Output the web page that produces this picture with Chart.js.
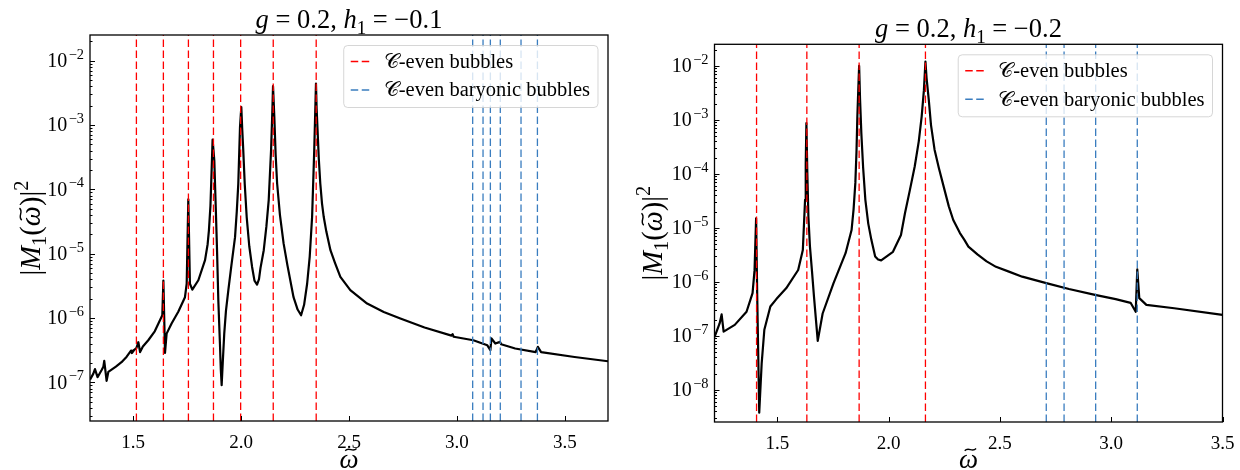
<!DOCTYPE html>
<html>
<head>
<meta charset="utf-8">
<script src="https://cdn.jsdelivr.net/npm/chart.js@4.4.0/dist/chart.umd.min.js"></script>
<style>
  body { margin: 0; background: #fff; }
  .panel { position: absolute; top: 0; width: 620px; height: 470px; }
</style>
</head>
<body>
<div class="panel" style="left:0"><canvas id="left" width="620" height="470"></canvas></div>
<div class="panel" style="left:620px"><canvas id="right" width="620" height="470"></canvas></div>
<script>
const SERIF = '"Liberation Serif", "DejaVu Serif", serif';

// ---- left panel: g = 0.2, h1 = -0.1 ----
const leftOmega = [1.300, 1.315, 1.323, 1.335, 1.354, 1.362, 1.366, 1.377, 1.385, 1.420, 1.446, 1.470, 1.490, 1.494,
  1.505, 1.515, 1.524, 1.532, 1.545, 1.570, 1.600, 1.617, 1.635, 1.640, 1.6475, 1.655, 1.678, 1.709, 1.740, 1.748,
  1.7555, 1.763, 1.774, 1.802, 1.833, 1.845, 1.851, 1.858, 1.864, 1.868, 1.876, 1.880, 1.884, 1.889, 1.8945, 1.902,
  1.906, 1.910, 1.915, 1.922, 1.930, 1.941, 1.955, 1.972, 1.980, 1.987, 1.995, 2.001, 2.005, 2.010, 2.017, 2.026,
  2.038, 2.051, 2.062, 2.074, 2.083, 2.090, 2.105, 2.117, 2.128, 2.139, 2.145, 2.148, 2.154, 2.160, 2.167, 2.180,
  2.197, 2.215, 2.243, 2.262, 2.278, 2.292, 2.306, 2.318, 2.329, 2.339, 2.347, 2.350, 2.355, 2.360, 2.367, 2.375,
  2.383, 2.395, 2.414, 2.435, 2.460, 2.506, 2.584, 2.661, 2.738, 2.850, 2.975, 2.980, 2.985, 3.076, 3.141, 3.155,
  3.160, 3.178, 3.200, 3.205, 3.270, 3.365, 3.375, 3.390, 3.545, 3.700];
const leftM1 = [1.10e-7, 1.35e-7, 1.60e-7, 1.20e-7, 1.55e-7, 1.75e-7, 2.15e-7, 1.05e-7, 1.45e-7, 1.75e-7, 2.05e-7, 2.50e-7, 3.10e-7, 2.85e-7,
  3.20e-7, 3.40e-7, 4.20e-7, 2.95e-7, 3.60e-7, 4.50e-7, 6.20e-7, 8.20e-7, 1.10e-6, 3.80e-6, 2.85e-7, 5.70e-7, 8.20e-7, 1.25e-6, 2.10e-6, 3.40e-6,
  7.00e-5, 3.40e-6, 2.75e-6, 3.85e-6, 7.90e-6, 1.40e-5, 2.30e-5, 5.50e-5, 2.20e-4, 5.90e-4, 2.80e-4, 1.00e-4, 3.70e-5, 1.00e-5, 1.90e-6, 4.00e-7,
  1.60e-7, 9.00e-8, 2.00e-7, 5.70e-7, 1.30e-6, 2.70e-6, 6.50e-6, 1.80e-5, 4.50e-5, 1.20e-4, 9.30e-4, 1.90e-3, 9.00e-4, 4.10e-4, 1.20e-4, 3.70e-5,
  1.30e-5, 6.20e-6, 3.80e-6, 3.30e-6, 4.00e-6, 6.00e-6, 1.13e-5, 2.60e-5, 6.80e-5, 4.10e-4, 1.70e-3, 4.00e-3, 1.34e-3, 3.50e-4, 1.23e-4, 4.00e-5,
  1.44e-5, 6.50e-6, 2.10e-6, 1.35e-6, 1.10e-6, 1.60e-6, 3.40e-6, 9.00e-6, 3.70e-5, 4.10e-4, 4.40e-3, 1.80e-3, 7.40e-4, 3.00e-4, 1.23e-4, 6.00e-5,
  3.70e-5, 2.20e-5, 1.13e-5, 7.20e-6, 4.35e-6, 2.70e-6, 1.67e-6, 1.24e-6, 9.80e-7, 7.10e-7, 5.30e-7, 5.60e-7, 5.10e-7, 4.50e-7, 3.75e-7, 3.15e-7,
  4.80e-7, 4.00e-7, 4.25e-7, 3.90e-7, 3.35e-7, 2.95e-7, 3.55e-7, 2.95e-7, 2.47e-7, 2.12e-7];
const leftRed = [1.515, 1.640, 1.756, 1.872, 1.998, 2.149, 2.348];
const leftBlue = [3.073, 3.121, 3.155, 3.201, 3.297, 3.373];
const leftXRange = [1.3, 3.7];
const leftYRange = [2.5e-8, 2.5e-2];
const leftYTicks = [1e-7, 1e-6, 1e-5, 1e-4, 1e-3, 1e-2];

// ---- right panel: g = 0.2, h1 = -0.2 ----
const rightOmega = [1.217, 1.240, 1.249, 1.258, 1.308, 1.361, 1.388, 1.397, 1.404, 1.409, 1.418, 1.429, 1.441, 1.468,
  1.495, 1.539, 1.593, 1.614, 1.624, 1.627, 1.630, 1.634, 1.639, 1.646, 1.655, 1.664, 1.672, 1.681, 1.703, 1.752,
  1.806, 1.833, 1.842, 1.850, 1.855, 1.859, 1.863, 1.867, 1.871, 1.877, 1.885, 1.895, 1.908, 1.922, 1.939, 1.952,
  1.966, 2.019, 2.055, 2.073, 2.095, 2.117, 2.135, 2.148, 2.158, 2.165, 2.170, 2.180, 2.190, 2.206, 2.225, 2.251,
  2.270, 2.290, 2.320, 2.340, 2.358, 2.400, 2.440, 2.482, 2.540, 2.600, 2.708, 2.810, 2.927, 3.020, 3.087, 3.110,
  3.117, 3.126, 3.158, 3.283, 3.500];
const rightM1 = [9.5e-8, 1.7e-7, 2.5e-7, 1.2e-7, 1.6e-7, 2.8e-7, 6.2e-7, 1.65e-6, 1.5e-5, 5.4e-7, 3.8e-9, 3.1e-8, 1.3e-7, 3.5e-7,
  4.8e-7, 7.6e-7, 1.66e-6, 3.9e-6, 3.3e-5, 1.5e-4, 8.7e-4, 1.1e-4, 1.6e-5, 4.5e-6, 1.6e-6, 5.4e-7, 2.2e-7, 8.1e-8, 2.6e-7, 9.5e-7,
  3.4e-6, 9.1e-6, 2.2e-5, 6.8e-5, 2.5e-4, 1.15e-3, 3.5e-3, 1.0e-2, 2.5e-3, 5.6e-4, 1.3e-4, 3.3e-5, 1.2e-5, 6.0e-6, 2.95e-6, 2.6e-6,
  2.5e-6, 3.6e-6, 7.4e-6, 1.86e-5, 5.0e-5, 1.38e-4, 4.0e-4, 1.15e-3, 3.5e-3, 1.2e-2, 6.0e-3, 2.35e-3, 8.0e-4, 2.8e-4, 1.3e-4, 5.0e-5,
  2.5e-5, 1.4e-5, 8.0e-6, 6.0e-6, 4.5e-6, 3.2e-6, 2.4e-6, 1.9e-6, 1.55e-6, 1.25e-6, 9.5e-7, 7.4e-7, 5.75e-7, 4.8e-7, 4.1e-7, 2.8e-7,
  1.7e-6, 5.0e-7, 3.75e-7, 3.25e-7, 2.45e-7];
const rightRed = [1.406, 1.632, 1.867, 2.165];
const rightBlue = [2.708, 2.788, 2.930, 3.117];
const rightXRange = [1.217, 3.5];
const rightYRange = [2.55e-9, 2.5e-2];
const rightYTicks = [1e-8, 1e-7, 1e-6, 1e-5, 1e-4, 1e-3, 1e-2];

const xTickValues = [1.5, 2.0, 2.5, 3.0, 3.5];
const legendLabels = ['𝒞-even bubbles', '𝒞-even baryonic bubbles'];

// draws a run of text pieces: italic, sub/superscript, tilde accent
function drawRich(ctx, segs, x, y, size, align) {
  let total = 0;
  const parts = segs.map(s => {
    const fs = (s.sub || s.sup) ? size * 0.72 : size;
    ctx.font = (s.it ? 'italic ' : '') + fs + 'px ' + SERIF;
    const w = ctx.measureText(s.t).width + (s.gap || 0);
    total += w;
    return { s, fs, w };
  });
  let cx = align === 'right' ? x - total : align === 'left' ? x : x - total / 2;
  ctx.textAlign = 'left';
  ctx.textBaseline = 'alphabetic';
  parts.forEach(p => {
    ctx.font = (p.s.it ? 'italic ' : '') + p.fs + 'px ' + SERIF;
    const dy = p.s.sub ? size * 0.22 : p.s.sup ? -size * 0.42 : 0;
    ctx.fillText(p.s.t, cx + (p.s.gap || 0), y + dy);
    if (p.s.tilde) {
      const tw = size * 0.42, tx = cx + p.w / 2 + size * 0.07, ty = y - size * 0.68, am = size * 0.04;
      ctx.save();
      ctx.lineWidth = size * 0.05;
      ctx.strokeStyle = ctx.fillStyle;
      ctx.beginPath();
      ctx.moveTo(tx - tw / 2, ty + am);
      ctx.bezierCurveTo(tx - tw / 6, ty - 3 * am, tx + tw / 6, ty + 3 * am, tx + tw / 2, ty - am);
      ctx.stroke();
      ctx.restore();
    }
    cx += p.w;
  });
}

const panelPlugin = {
  id: 'panel',
  afterDraw(chart, args, opts) {
    const ctx = chart.ctx, a = chart.chartArea;
    const xs = chart.scales.x, ys = chart.scales.y;
    ctx.save();
    ctx.strokeStyle = '#000';
    ctx.fillStyle = '#000';
    ctx.lineWidth = 1;
    ctx.beginPath();
    xs.ticks.forEach(t => {
      const px = Math.round(xs.getPixelForValue(t.value)) + 0.5;
      ctx.moveTo(px, a.bottom); ctx.lineTo(px, a.bottom - 5);
    });
    ys.ticks.forEach(t => {
      const py = Math.round(ys.getPixelForValue(t.value)) + 0.5;
      ctx.moveTo(a.left, py); ctx.lineTo(a.left + (t.major ? 5 : 2.5), py);
    });
    ctx.stroke();

    // decade labels 10^n
    opts.yTicks.forEach(v => {
      const py = ys.getPixelForValue(v);
      const e = Math.round(Math.log10(v));
      drawRich(ctx, [{ t: '10' }, { t: (e < 0 ? '−' : '') + Math.abs(e), sup: true, gap: 1.5 }], a.left - 6, py + 6.5, 20, 'right');
    });

    ctx.lineWidth = 1.3;
    ctx.strokeRect(a.left, a.top, a.right - a.left, a.bottom - a.top);

    const mid = (a.left + a.right) / 2;
    drawRich(ctx, opts.title, mid, opts.titleY, 26.5, 'center');
    drawRich(ctx, [{ t: 'ω', it: true, tilde: true }], mid, 468, 27, 'center');

    ctx.save();
    ctx.translate(opts.yLabelX, (a.top + a.bottom) / 2);
    ctx.rotate(-Math.PI / 2);
    drawRich(ctx, [{ t: '|' }, { t: 'M', it: true }, { t: '1', sub: true }, { t: '(' },
      { t: 'ω', it: true, tilde: true }, { t: ')|' }, { t: '2', sup: true }], 0, 0, 28.5, 'center');
    ctx.restore();

    // legend box, matplotlib style
    const items = chart.data.datasets.filter(d => d.label);
    ctx.font = '20.5px ' + SERIF;
    const textW = Math.max(...items.map(d => ctx.measureText(d.label).width));
    const bw = 7 + 20 + 13 + textW + 8, bh = 62;
    const bx = a.right - 10 - bw, by = a.top + 10.5;
    ctx.fillStyle = 'rgba(255,255,255,0.8)';
    ctx.strokeStyle = 'rgba(204,204,204,0.8)';
    ctx.lineWidth = 1;
    ctx.beginPath();
    ctx.roundRect(bx, by, bw, bh, 4);
    ctx.fill(); ctx.stroke();
    items.forEach((d, i) => {
      const cy = by + 16 + i * 28.5;
      ctx.strokeStyle = d.borderColor;
      ctx.lineWidth = 1.6;
      ctx.setLineDash(d.borderDash);
      ctx.beginPath(); ctx.moveTo(bx + 7, cy); ctx.lineTo(bx + 27.5, cy); ctx.stroke();
      ctx.setLineDash([]);
      ctx.fillStyle = '#000';
      ctx.font = '20.5px ' + SERIF;
      ctx.textAlign = 'left';
      ctx.textBaseline = 'middle';
      ctx.fillText(d.label, bx + 40, cy + 1);
    });
    ctx.restore();
  }
};

function vlines(xs, yr) {
  const pts = [];
  xs.forEach(x => { pts.push({ x, y: yr[0] }, { x, y: yr[1] }, { x, y: null }); });
  return pts;
}

function makeChart(id, p) {
  return new Chart(document.getElementById(id), {
    type: 'line',
    data: {
      datasets: [
        { label: legendLabels[0], data: vlines(p.red, p.yRange), borderColor: '#ff0000', borderWidth: 1.3,
          borderDash: [7.5, 3.5], pointRadius: 0, spanGaps: false },
        { label: legendLabels[1], data: vlines(p.blue, p.yRange), borderColor: '#3a7dbf', borderWidth: 1.3,
          borderDash: [7.5, 3.5], pointRadius: 0, spanGaps: false },
        { label: '', data: p.omega.map((x, i) => ({ x, y: p.m1[i] })), borderColor: '#000', borderWidth: 2.2,
          pointRadius: 0, tension: 0, borderJoinStyle: 'round' }
      ]
    },
    options: {
      responsive: false,
      animation: false,
      devicePixelRatio: 1,
      layout: { padding: { left: 0, right: p.padRight, top: p.padTop, bottom: 0 } },
      plugins: {
        legend: { display: false },
        tooltip: { enabled: false },
        panel: { title: p.title, titleY: p.titleY, yLabelX: p.yLabelX, yTicks: p.yTicks }
      },
      scales: {
        x: {
          type: 'linear', min: p.xRange[0], max: p.xRange[1],
          grid: { display: false }, border: { display: false },
          ticks: { color: '#000', font: { family: SERIF, size: 19 }, padding: 3, maxRotation: 0,
            autoSkip: false, callback: v => v.toFixed(1) },
          afterBuildTicks: s => { s.ticks = xTickValues.map(v => ({ value: v })); },
          afterFit: s => { s.height = p.xAxisH; }
        },
        y: {
          type: 'logarithmic', min: p.yRange[0], max: p.yRange[1],
          grid: { display: false }, border: { display: false },
          ticks: { display: false },
          afterBuildTicks: s => {
            const t = [];
            for (let e = Math.floor(Math.log10(s.min)); e <= Math.floor(Math.log10(s.max)); e++) {
              for (let k = 1; k < 10; k++) {
                const v = k * Math.pow(10, e);
                if (v >= s.min && v <= s.max) t.push({ value: v, major: k === 1 });
              }
            }
            s.ticks = t;
          },
          afterFit: s => { s.width = p.yAxisW; }
        }
      }
    },
    plugins: [panelPlugin]
  });
}

makeChart('left', {
  omega: leftOmega, m1: leftM1, red: leftRed, blue: leftBlue,
  xRange: leftXRange, yRange: leftYRange, yTicks: leftYTicks,
  padTop: 35, padRight: 12, yAxisW: 90, xAxisH: 49, titleY: 28, yLabelX: 40,
  title: [{ t: 'g', it: true }, { t: ' = 0.2, ' }, { t: 'h', it: true }, { t: '1', sub: true }, { t: ' = −0.1' }]
});

makeChart('right', {
  omega: rightOmega, m1: rightM1, red: rightRed, blue: rightBlue,
  xRange: rightXRange, yRange: rightYRange, yTicks: rightYTicks,
  padTop: 44.3, padRight: 17.5, yAxisW: 94.5, xAxisH: 48, titleY: 37, yLabelX: 42,
  title: [{ t: 'g', it: true }, { t: ' = 0.2, ' }, { t: 'h', it: true }, { t: '1', sub: true }, { t: ' = −0.2' }]
});
</script>
</body>
</html>
